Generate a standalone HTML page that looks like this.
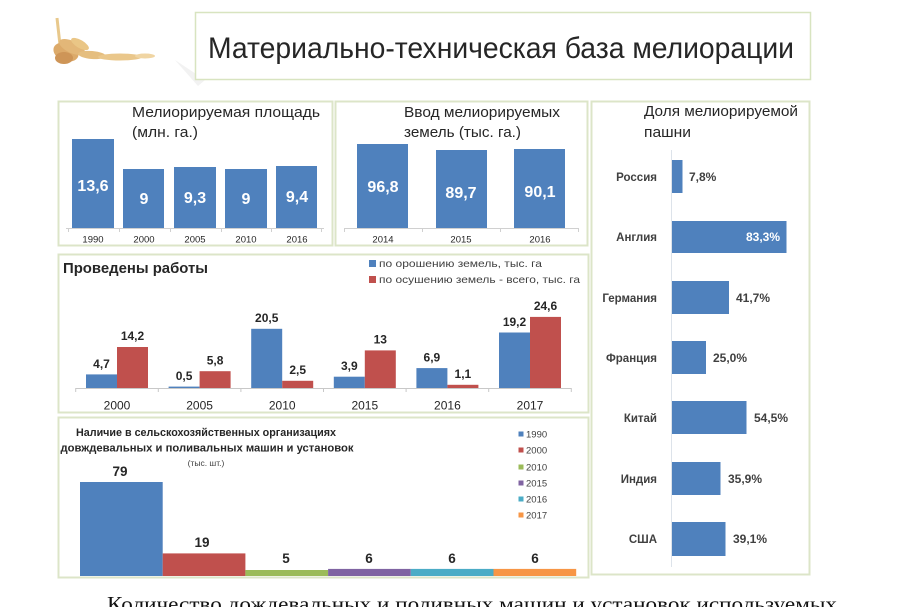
<!DOCTYPE html>
<html><head><meta charset="utf-8"><style>
html,body{margin:0;padding:0;background:#fff;}
svg{display:block;font-family:"Liberation Sans","DejaVu Sans",sans-serif;}
</style></head><body>
<svg width="900" height="607" viewBox="0 0 900 607" xmlns="http://www.w3.org/2000/svg">
<rect width="900" height="607" fill="#fff"/>

<!-- wheat decoration -->
<g opacity="0.9">
  <line x1="57" y1="18" x2="60" y2="45" stroke="#e6c37f" stroke-width="3"/>
  <ellipse cx="66" cy="52" rx="13" ry="9" fill="#d9a15a" transform="rotate(20 66 52)"/>
  <ellipse cx="72" cy="47" rx="14" ry="6" fill="#e0b06a" transform="rotate(25 72 47)"/>
  <ellipse cx="64" cy="58" rx="9" ry="6" fill="#c98a45"/>
  <ellipse cx="92" cy="55" rx="14" ry="4" fill="#e3b772" transform="rotate(5 92 55)"/>
  <ellipse cx="120" cy="57" rx="22" ry="3.5" fill="#e8c27f"/>
  <ellipse cx="145" cy="56" rx="10" ry="2.5" fill="#efd19a"/>
  <ellipse cx="80" cy="44" rx="10" ry="4" fill="#e8c07a" transform="rotate(30 80 44)"/>
</g>

<!-- title box -->
<path d="M175 60 L198 86 L205 80 Z" fill="#f2f2f2"/>
<rect x="195.5" y="12.5" width="615" height="67" fill="#fff" stroke="#d8e4c0" stroke-width="1.5"/>
<text x="208" y="58" font-size="30" fill="#262626" textLength="586" lengthAdjust="spacingAndGlyphs">Материально-техническая  база мелиорации</text>

<!-- panel borders -->
<g fill="#fff" stroke="#dce5c8" stroke-width="2">
  <rect x="58.5" y="101.5" width="274" height="144"/>
  <rect x="335.5" y="101.5" width="252" height="144"/>
  <rect x="591.5" y="101.5" width="218" height="473"/>
  <rect x="58.5" y="254.5" width="530" height="158"/>
  <rect x="58.5" y="417.5" width="530" height="160"/>
</g>

<!-- Panel 1 -->
<text x="132" y="117" font-size="15" fill="#262626" textLength="188" lengthAdjust="spacingAndGlyphs">Мелиорируемая  площадь</text>
<text x="132" y="137" font-size="15" fill="#262626" textLength="66" lengthAdjust="spacingAndGlyphs">(млн. га.)</text>
<g fill="#4f81bd">
  <rect x="72" y="139" width="42" height="89"/>
  <rect x="123" y="169" width="41" height="59"/>
  <rect x="174" y="167" width="42" height="61"/>
  <rect x="225" y="169" width="42" height="59"/>
  <rect x="276" y="166" width="41" height="62"/>
</g>
<g stroke="#d0d0d0" stroke-width="1">
  <line x1="66" y1="228.5" x2="324" y2="228.5"/>
  <line x1="68.5" y1="228" x2="68.5" y2="232"/>
  <line x1="119.5" y1="228" x2="119.5" y2="232"/>
  <line x1="170.5" y1="228" x2="170.5" y2="232"/>
  <line x1="221.5" y1="228" x2="221.5" y2="232"/>
  <line x1="271.5" y1="228" x2="271.5" y2="232"/>
  <line x1="321.5" y1="228" x2="321.5" y2="232"/>
</g>
<g font-size="16" font-weight="bold" fill="#fff" text-anchor="middle">
  <text x="93" y="191">13,6</text>
  <text x="144" y="204">9</text>
  <text x="195" y="203">9,3</text>
  <text x="246" y="204">9</text>
  <text x="297" y="202">9,4</text>
</g>
<g font-size="9.5" fill="#262626" text-anchor="middle">
  <text x="93" y="242.5">1990</text>
  <text x="144" y="242.5">2000</text>
  <text x="195" y="242.5">2005</text>
  <text x="246" y="242.5">2010</text>
  <text x="297" y="242.5">2016</text>
</g>

<!-- Panel 2 -->
<text x="404" y="117" font-size="15" fill="#262626" textLength="156" lengthAdjust="spacingAndGlyphs">Ввод мелиорируемых</text>
<text x="404" y="137" font-size="15" fill="#262626" textLength="117" lengthAdjust="spacingAndGlyphs">земель (тыс. га.)</text>
<g fill="#4f81bd">
  <rect x="357" y="144" width="51" height="84"/>
  <rect x="436" y="150" width="51" height="78"/>
  <rect x="514" y="149" width="51" height="79"/>
</g>
<g stroke="#d0d0d0" stroke-width="1">
  <line x1="344" y1="228.5" x2="578" y2="228.5"/>
  <line x1="344.5" y1="228" x2="344.5" y2="232"/>
  <line x1="422.5" y1="228" x2="422.5" y2="232"/>
  <line x1="500.5" y1="228" x2="500.5" y2="232"/>
  <line x1="578.5" y1="228" x2="578.5" y2="232"/>
</g>
<g font-size="16" font-weight="bold" fill="#fff" text-anchor="middle">
  <text x="383" y="192">96,8</text>
  <text x="461" y="198">89,7</text>
  <text x="540" y="197">90,1</text>
</g>
<g font-size="9.5" fill="#262626" text-anchor="middle">
  <text x="383" y="242.5">2014</text>
  <text x="461" y="242.5">2015</text>
  <text x="540" y="242.5">2016</text>
</g>

<!-- Panel 3 -->
<text x="644" y="116" font-size="15" fill="#262626" textLength="154" lengthAdjust="spacingAndGlyphs">Доля мелиорируемой</text>
<text x="644" y="137" font-size="15" fill="#262626" textLength="47" lengthAdjust="spacingAndGlyphs">пашни</text>
<line x1="671.5" y1="150" x2="671.5" y2="567" stroke="#dde3ea" stroke-width="1"/>
<g fill="#4f81bd">
  <rect x="672" y="160" width="10.5" height="33"/>
  <rect x="672" y="221" width="114.5" height="32"/>
  <rect x="672" y="281" width="57" height="33"/>
  <rect x="672" y="341" width="34" height="33"/>
  <rect x="672" y="401" width="74.5" height="33"/>
  <rect x="672" y="462" width="48.5" height="33"/>
  <rect x="672" y="522" width="53.5" height="34"/>
</g>
<g font-size="11.5" font-weight="bold" fill="#404040" text-anchor="end">
  <text x="657" y="181">Россия</text>
  <text x="657" y="241">Англия</text>
  <text x="657" y="302">Германия</text>
  <text x="657" y="362">Франция</text>
  <text x="657" y="422">Китай</text>
  <text x="657" y="483">Индия</text>
  <text x="657" y="543">США</text>
</g>
<g font-size="12" font-weight="bold" fill="#404040">
  <text x="689" y="181">7,8%</text>
  <text x="780" y="241" fill="#fff" text-anchor="end">83,3%</text>
  <text x="736" y="302">41,7%</text>
  <text x="713" y="362">25,0%</text>
  <text x="754" y="422">54,5%</text>
  <text x="728" y="483">35,9%</text>
  <text x="733" y="543">39,1%</text>
</g>

<!-- Panel 4 -->
<text x="63" y="273" font-size="14.5" font-weight="bold" fill="#262626" textLength="145" lengthAdjust="spacingAndGlyphs">Проведены работы</text>
<rect x="369" y="260" width="7" height="7" fill="#4f81bd"/>
<rect x="369" y="276" width="7" height="7" fill="#c0504d"/>
<text x="379" y="267" font-size="10.5" fill="#404040" textLength="163" lengthAdjust="spacingAndGlyphs">по орошению земель, тыс. га</text>
<text x="379" y="283" font-size="10.5" fill="#404040" textLength="201" lengthAdjust="spacingAndGlyphs">по осушению земель - всего, тыс. га</text>
<g fill="#4f81bd">
  <rect x="86" y="374.4" width="31" height="13.6"/>
  <rect x="168.6" y="386.6" width="31" height="1.4"/>
  <rect x="251.2" y="328.8" width="31" height="59.2"/>
  <rect x="333.8" y="376.7" width="31" height="11.3"/>
  <rect x="416.4" y="368.1" width="31" height="19.9"/>
  <rect x="499" y="332.5" width="31" height="55.5"/>
</g>
<g fill="#c0504d">
  <rect x="117" y="347" width="31" height="41"/>
  <rect x="199.6" y="371.2" width="31" height="16.8"/>
  <rect x="282.2" y="380.8" width="31" height="7.2"/>
  <rect x="364.8" y="350.4" width="31" height="37.6"/>
  <rect x="447.4" y="384.8" width="31" height="3.2"/>
  <rect x="530" y="316.9" width="31" height="71.1"/>
</g>
<g stroke="#c8c8c8" stroke-width="1">
  <line x1="75.7" y1="388.5" x2="571.3" y2="388.5"/>
  <line x1="75.7" y1="388" x2="75.7" y2="392"/>
  <line x1="158.3" y1="388" x2="158.3" y2="392"/>
  <line x1="240.9" y1="388" x2="240.9" y2="392"/>
  <line x1="323.5" y1="388" x2="323.5" y2="392"/>
  <line x1="406.1" y1="388" x2="406.1" y2="392"/>
  <line x1="488.7" y1="388" x2="488.7" y2="392"/>
  <line x1="571.3" y1="388" x2="571.3" y2="392"/>
</g>
<g font-size="12" font-weight="bold" fill="#262626" text-anchor="middle">
  <text x="101.5" y="368">4,7</text>
  <text x="132.5" y="340">14,2</text>
  <text x="184.1" y="380">0,5</text>
  <text x="215.1" y="364.5">5,8</text>
  <text x="266.7" y="322">20,5</text>
  <text x="297.7" y="374">2,5</text>
  <text x="349.3" y="370">3,9</text>
  <text x="380.3" y="343.5">13</text>
  <text x="431.9" y="361.5">6,9</text>
  <text x="462.9" y="378">1,1</text>
  <text x="514.5" y="326">19,2</text>
  <text x="545.5" y="310">24,6</text>
</g>
<g font-size="12" fill="#262626" text-anchor="middle">
  <text x="117" y="409.5">2000</text>
  <text x="199.6" y="409.5">2005</text>
  <text x="282.2" y="409.5">2010</text>
  <text x="364.8" y="409.5">2015</text>
  <text x="447.4" y="409.5">2016</text>
  <text x="530" y="409.5">2017</text>
</g>

<!-- Panel 5 -->
<g font-size="11" font-weight="bold" fill="#262626" text-anchor="middle">
  <text x="206" y="436" textLength="260" lengthAdjust="spacingAndGlyphs">Наличие в сельскохозяйственных организациях</text>
  <text x="207" y="451.5" textLength="293" lengthAdjust="spacingAndGlyphs">довждевальных и поливальных машин и установок</text>
</g>
<text x="206" y="466" font-size="8.5" fill="#404040" text-anchor="middle">(тыс. шт.)</text>
<rect x="80" y="482" width="82.7" height="94" fill="#4f81bd"/>
<rect x="162.7" y="553.4" width="82.7" height="22.6" fill="#c0504d"/>
<rect x="245.4" y="570" width="82.7" height="6" fill="#9bbb59"/>
<rect x="328.1" y="568.9" width="82.7" height="7.1" fill="#8064a2"/>
<rect x="410.8" y="568.9" width="82.7" height="7.1" fill="#4bacc6"/>
<rect x="493.5" y="568.9" width="82.7" height="7.1" fill="#f79646"/>
<g font-size="13.5" font-weight="bold" fill="#262626" text-anchor="middle">
  <text x="120" y="476">79</text>
  <text x="202" y="547">19</text>
  <text x="286" y="563">5</text>
  <text x="369" y="563">6</text>
  <text x="452" y="563">6</text>
  <text x="535" y="563">6</text>
</g>
<g font-size="9.5" fill="#404040">
  <rect x="518.5" y="431.5" width="5" height="5" fill="#4f81bd"/><text x="526" y="437.5">1990</text>
  <rect x="518.5" y="447.5" width="5" height="5" fill="#c0504d"/><text x="526" y="453.5">2000</text>
  <rect x="518.5" y="464.5" width="5" height="5" fill="#9bbb59"/><text x="526" y="470.5">2010</text>
  <rect x="518.5" y="480.5" width="5" height="5" fill="#8064a2"/><text x="526" y="486.5">2015</text>
  <rect x="518.5" y="496.5" width="5" height="5" fill="#4bacc6"/><text x="526" y="502.5">2016</text>
  <rect x="518.5" y="512.5" width="5" height="5" fill="#f79646"/><text x="526" y="518.5">2017</text>
</g>

<!-- bottom cut-off text -->
<text x="107" y="611" font-family="Liberation Serif, serif" font-size="21" fill="#111" textLength="730" lengthAdjust="spacingAndGlyphs">Количество дождевальных и поливных машин и установок используемых</text>
</svg>
</body></html>
